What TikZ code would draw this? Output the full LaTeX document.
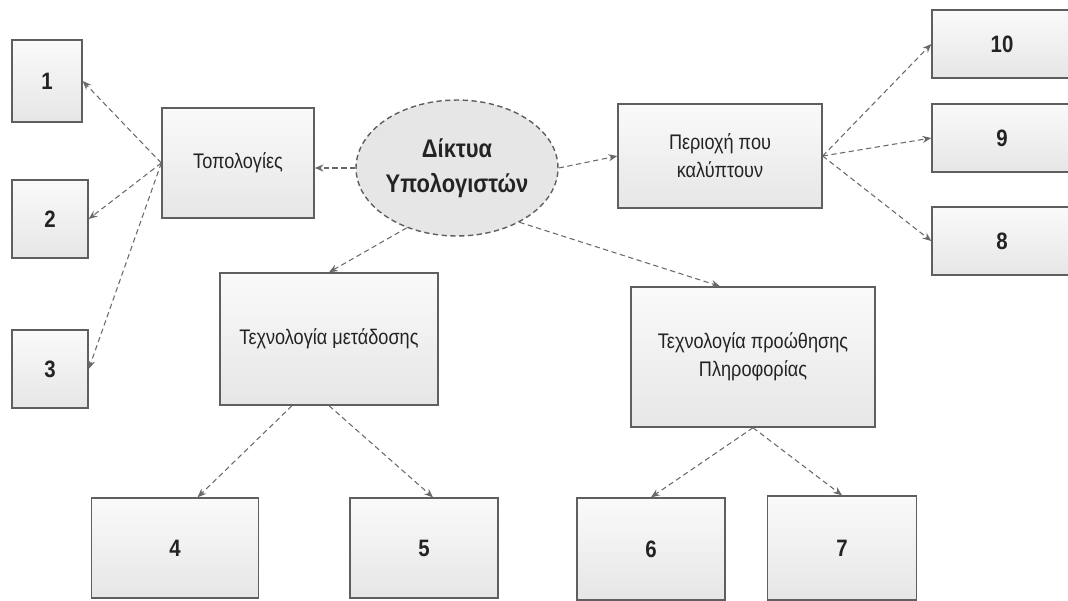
\documentclass[tikz,border=0pt]{standalone}
\usepackage{fontspec}
\setmainfont{Liberation Sans}[FakeStretch=0.86]
\usetikzlibrary{arrows.meta, shapes.geometric}
\definecolor{boxline}{RGB}{95,95,95}
\definecolor{boxtop}{RGB}{250,250,250}
\definecolor{boxbot}{RGB}{230,230,230}
\definecolor{linkgray}{RGB}{105,105,105}
\definecolor{textdark}{RGB}{35,35,35}

\begin{document}
\begin{tikzpicture}[x=0.02cm, y=-0.02cm,
    box/.style={draw=boxline, line width=0.8pt, top color=boxtop, bottom color=boxbot,
        text=textdark, align=center, inner sep=2pt, font=\fontsize{12}{16}\selectfont},
    numbox/.style={box, font=\fontsize{13.5}{15}\selectfont\bfseries},
    link/.style={draw=linkgray, line width=0.6pt, dash pattern=on 3pt off 2pt,
        -{Stealth[length=5pt, width=4pt]}}]
    % Page
    \fill[white] (0,0) rectangle (1068,600);
    \useasboundingbox (0,0) rectangle (1068,600);

    % Centre
    \node[ellipse, draw=boxline, line width=0.8pt, dash pattern=on 3pt off 2pt, fill=boxbot,
        minimum width=4.04cm, minimum height=2.72cm, inner sep=0pt, align=center, text=textdark,
        font=\fontsize{14.5}{20}\selectfont\bfseries] (net) at (457,168) {Δίκτυα\\Υπολογιστών};

    % Categories
    \node[box, minimum width=3.04cm, minimum height=2.2cm] (topo) at (238,163) {Τοπολογίες};
    \node[box, minimum width=4.08cm, minimum height=2.08cm] (area) at (720,156) {Περιοχή που\\καλύπτουν};
    \node[box, minimum width=4.36cm, minimum height=2.64cm] (trans) at (329,339) {Τεχνολογία μετάδοσης};
    \node[box, minimum width=4.88cm, minimum height=2.8cm] (fwd) at (753,357) {Τεχνολογία προώθησης\\Πληροφορίας};

    % Numbered boxes
    \foreach \name/\cx/\cy/\w/\h/\txt in {n1/47/81/1.4/1.64/1, n2/50/219/1.52/1.56/2, n3/50/369/1.52/1.56/3,
        n4/175/548/3.34/2.0/4, n5/424/548/2.96/2.0/5, n6/651/549/2.96/2.04/6, n7/842/548/2.98/2.08/7,
        n8/1002/241/2.8/1.36/8, n9/1002/138/2.8/1.36/9, n10/1002/44/2.8/1.36/10} {
        \node[numbox, minimum width=\w cm, minimum height=\h cm] (\name) at (\cx,\cy) {\txt};
    }

    % Links from the centre
    \draw[link] (net.west) -- (net.west -| topo.east);
    \draw[link] (net.east) -- (area.west);
    \draw[link] (net.230) -- (trans.north);
    \draw[link] (net.319) -- (fwd.115);

    % Links to the numbered boxes
    \foreach \n in {n1,n2,n3} \draw[link] (topo.west) -- (\n.east);
    \foreach \n in {n10,n9,n8} \draw[link] (area.east) -- (\n.west);
    \draw[link] (trans.241) -- (n4.66);
    \draw[link] (trans.south) -- (n5.80);
    \draw[link] (fwd.south) -- (n6.north);
    \draw[link] (fwd.south) -- (n7.north);
\end{tikzpicture}
\end{document}
